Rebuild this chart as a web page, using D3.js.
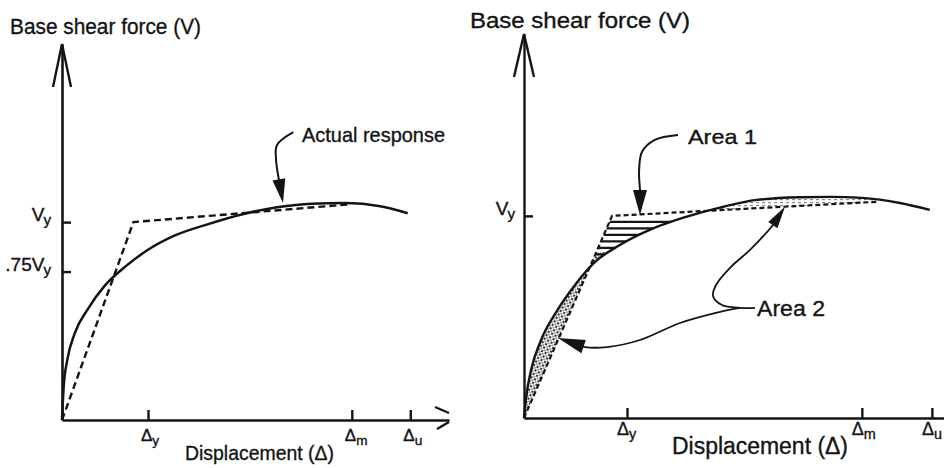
<!DOCTYPE html>
<html>
<head>
<meta charset="utf-8">
<script src="https://cdn.jsdelivr.net/npm/d3@7"></script>
<style>
  html, body { margin: 0; padding: 0; background: #fff; }
  svg { display: block; font-family: "Liberation Sans", Arial, Helvetica, sans-serif; }
  .lbl { fill: #141414; stroke: #141414; stroke-width: 0.35; }
</style>
</head>
<body>
<svg id="chart" width="944" height="468"></svg>
<script>
// Displacement in units of Δy, base shear in units of Vy.

// Left panel: actual response curve and its bilinear idealisation
const leftCurveD = [0, 0.02, 0.06, 0.15, 0.3, 0.5, 0.75, 1.0, 1.3, 1.7, 2.1, 2.5, 2.9, 3.3, 3.7, 4.02];
const leftCurveV = [0, 0.17, 0.3, 0.44, 0.56, 0.68, 0.78, 0.86, 0.93, 0.99, 1.04, 1.075, 1.093, 1.096, 1.08, 1.045];
const leftIdealD = [0, 0.83, 3.35];
const leftIdealV = [0, 1, 1.09];
const leftXTicks = [1, 3.37, 4.05];
const leftYTicks = [0.75, 1];
const leftYTickLabels = [".75V", "V"];

// Right panel: equal-area bilinear fit
const rightCurveD = [0, 0.02, 0.07, 0.165, 0.32, 0.495, 0.69, 0.93, 1.22, 1.54, 1.93, 2.26, 2.68, 2.97, 3.28, 3.65, 3.94];
const rightCurveV = [0, 0.1, 0.24, 0.385, 0.53, 0.658, 0.772, 0.856, 0.931, 0.99, 1.045, 1.079, 1.092, 1.094, 1.089, 1.064, 1.03];
const rightIdealD = [0, 0.855, 3.43];
const rightIdealV = [0, 1, 1.07];
const rightXTicks = [1, 3.28, 3.96];
const rightYTicks = [1];
const rightYTickLabels = ["V"];

const xTickSubs = ["y", "m", "u"];

// Leader lines for the callouts (data units), last point is the arrow tip
const actualResponseLeader = [[2.69, 1.455], [2.5, 1.39], [2.49, 1.31], [2.52, 1.22], [2.57, 1.096]];
const area1Leader = [[1.495, 1.40], [1.27, 1.376], [1.146, 1.317], [1.117, 1.218], [1.126, 1.129], [1.126, 1.005]];
const area2UpperLeader = [[2.243, 0.545], [2.097, 0.545], [1.922, 0.559], [1.835, 0.604], [1.864, 0.658], [2.0, 0.743], [2.194, 0.832], [2.417, 0.955], [2.534, 1.045]];
const area2LowerLeader = [[2.097, 0.545], [1.903, 0.525], [1.515, 0.47], [1.126, 0.386], [0.806, 0.351], [0.592, 0.351], [0.33, 0.396]];

const svg = d3.select("#chart");
const ink = "#141414";

const defs = svg.append("defs");
const stip = defs.append("pattern").attr("id", "stipple")
  .attr("width", 4).attr("height", 4).attr("patternUnits", "userSpaceOnUse")
  .attr("patternTransform", "rotate(30)");
stip.append("circle").attr("cx", 1).attr("cy", 1).attr("r", 1.15).attr("fill", "#222");
stip.append("circle").attr("cx", 3).attr("cy", 3).attr("r", 0.85).attr("fill", "#444");
const light = defs.append("pattern").attr("id", "lightdash")
  .attr("width", 6).attr("height", 3).attr("patternUnits", "userSpaceOnUse");
light.append("rect").attr("x", 0).attr("y", 1).attr("width", 3).attr("height", 1.2).attr("fill", "#8a8a8a");

function arrowHead(g, from, tip, len, half) {
  const dx = tip[0] - from[0], dy = tip[1] - from[1];
  const L = Math.hypot(dx, dy);
  const ux = dx / L, uy = dy / L;
  const bx = tip[0] - ux * len, by = tip[1] - uy * len;
  g.append("path")
    .attr("d", `M${tip[0]},${tip[1]}L${bx - uy * half},${by + ux * half}L${bx + uy * half},${by - ux * half}Z`)
    .attr("fill", ink);
}

function leader(g, x, y, pts, len, half, width) {
  const px = pts.map(p => [x(p[0]), y(p[1])]);
  const tip = px[px.length - 1];
  const prev = px[px.length - 2];
  const line = d3.line().curve(d3.curveCatmullRom.alpha(0.5));
  const dx = tip[0] - prev[0], dy = tip[1] - prev[1];
  const L = Math.hypot(dx, dy);
  const base = [tip[0] - dx / L * (len - 2), tip[1] - dy / L * (len - 2)];
  g.append("path").attr("d", line(px.slice(0, -1).concat([base])))
    .attr("fill", "none").attr("stroke", ink).attr("stroke-width", width);
  arrowHead(g, prev, tip, len, half);
}

function label(g, x, y, size, length, text) {
  return g.append("text").attr("class", "lbl").attr("x", x).attr("y", y)
    .attr("font-size", size)
    .attr("textLength", length).attr("lengthAdjust", "spacingAndGlyphs")
    .text(text);
}

function panel(opt) {
  const g = svg.append("g");
  const x = d3.scaleLinear().domain(opt.xDomain).range(opt.xRange);
  const y = d3.scaleLinear().domain(opt.yDomain).range(opt.yRange);

  // axes
  const xAxis = g.append("g").attr("transform", `translate(0,${y(0)})`)
    .call(d3.axisBottom(x).tickValues(opt.xTicks).tickSize(-10).tickSizeOuter(0).tickFormat(""));
  const yAxis = g.append("g").attr("transform", `translate(${x(0)},0)`)
    .call(d3.axisLeft(y).tickValues(opt.yTicks).tickSize(-9).tickSizeOuter(0).tickFormat(""));
  [xAxis, yAxis].forEach(a => {
    a.select(".domain").attr("stroke", ink).attr("stroke-width", opt.axisW);
    a.selectAll(".tick line").attr("stroke", ink).attr("stroke-width", 2.4);
  });

  // open arrow at the top of the force axis
  const top = [x(0), y(opt.yDomain[1])];
  g.append("path")
    .attr("d", `M${top[0] - opt.arm[0]},${top[1] + opt.arm[1]}L${top[0]},${top[1]}L${top[0] + opt.arm[0]},${top[1] + opt.arm[1]}`)
    .attr("fill", "none").attr("stroke", ink).attr("stroke-width", 2.4);

  // displacement tick labels
  opt.xTicks.forEach((v, i) => {
    const t = g.append("text").attr("class", "lbl").attr("x", x(v) + opt.dLabelDx).attr("y", opt.dLabelY)
      .attr("font-size", opt.dFont);
    t.append("tspan").text("Δ");
    t.append("tspan").attr("font-size", opt.dFont * 0.8).attr("dy", 4).text(xTickSubs[i]);
  });
  // force tick labels
  opt.yTicks.forEach((v, i) => {
    const t = g.append("text").attr("class", "lbl").attr("x", x(0) - opt.vLabelGap).attr("y", y(v) - 1)
      .attr("text-anchor", "end").attr("font-size", opt.vFont);
    t.append("tspan").text(opt.yLabels[i]);
    t.append("tspan").attr("font-size", opt.vFont * 0.8).attr("dy", 4).attr("dx", -1).text("y");
  });

  label(g, opt.title[0], opt.title[1], 22, opt.title[2], "Base shear force (V)");
  label(g, opt.xTitle[0], opt.xTitle[1], opt.xTitle[3], opt.xTitle[2], "Displacement (Δ)");

  const curvePts = d3.zip(opt.curveD, opt.curveV);
  const idealPts = d3.zip(opt.idealD, opt.idealV);
  const smooth = d3.line().x(d => x(d[0])).y(d => y(d[1])).curve(d3.curveMonotoneX);
  const straight = d3.line().x(d => x(d[0])).y(d => y(d[1]));

  return { g, x, y, curvePts, idealPts, smooth, straight };
}

// ---------- left panel ----------
const L = panel({
  xDomain: [0, 4.5], xRange: [62, 449],
  yDomain: [0, 1.9], yRange: [420, 44],
  xTicks: leftXTicks, yTicks: leftYTicks, yLabels: leftYTickLabels,
  axisW: 2.6, arm: [9, 43],
  dLabelDx: -7, dLabelY: 441, dFont: 17,
  vLabelGap: 11, vFont: 19,
  title: [10, 34, 191], xTitle: [185, 460, 149, 21],
  curveD: leftCurveD, curveV: leftCurveV, idealD: leftIdealD, idealV: leftIdealV
});
L.g.append("path").attr("d", L.straight(L.idealPts))
  .attr("fill", "none").attr("stroke", ink).attr("stroke-width", 2.4).attr("stroke-dasharray", "7,4");
L.g.append("path").attr("d", L.smooth(L.curvePts))
  .attr("fill", "none").attr("stroke", ink).attr("stroke-width", 2.5);
// broken arrow at the end of the displacement axis
L.g.append("path")
  .attr("d", `M${L.x(4.5) - 14},${L.y(0) - 13}L${L.x(4.5)},${L.y(0) - 7}M${L.x(4.5) - 12},${L.y(0) + 9}L${L.x(4.5)},${L.y(0) + 2}`)
  .attr("fill", "none").attr("stroke", ink).attr("stroke-width", 2.4);
label(L.g, 302, 142, 21, 143, "Actual response");
leader(L.g, L.x, L.y, actualResponseLeader, 24, 6.5, 2);

// ---------- right panel ----------
const R = panel({
  xDomain: [0, 4.1], xRange: [524, 946.3],
  yDomain: [0, 1.9], yRange: [418, 34],
  xTicks: rightXTicks, yTicks: rightYTicks, yLabels: rightYTickLabels,
  axisW: 2.4, arm: [10, 43],
  dLabelDx: -10, dLabelY: 435, dFont: 18,
  vLabelGap: 9, vFont: 19,
  title: [470, 28, 220], xTitle: [672, 454, 176, 23],
  curveD: rightCurveD, curveV: rightCurveV, idealD: rightIdealD, idealV: rightIdealV
});

const shade = R.g.append("g");
R.g.append("path").attr("d", R.straight(R.idealPts))
  .attr("fill", "none").attr("stroke", ink).attr("stroke-width", 2.2).attr("stroke-dasharray", "5,3");
const rCurve = R.g.append("path").attr("d", R.smooth(R.curvePts))
  .attr("fill", "none").attr("stroke", ink).attr("stroke-width", 2.4);

// region enclosed between the idealised line and the curve
const node = rCurve.node();
const total = node.getTotalLength();
const back = d3.range(0, 301).map(i => {
  const p = node.getPointAtLength(total * (1 - i / 300));
  return [p.x, p.y];
});
const lobe = R.straight(R.idealPts) + "L" + back.map(p => p.join(",")).join("L") + "Z";
defs.append("clipPath").attr("id", "lobes").append("path").attr("d", lobe);
shade.attr("clip-path", "url(#lobes)");

// Area 2 (lower): stippled
shade.append("rect")
  .attr("x", R.x(0)).attr("y", R.y(0.82))
  .attr("width", R.x(0.9) - R.x(0)).attr("height", R.y(0) - R.y(0.82))
  .attr("fill", "url(#stipple)");
// Area 2 (upper): light fill
shade.append("rect")
  .attr("x", R.x(1.74)).attr("y", R.y(1.2))
  .attr("width", R.x(3.42) - R.x(1.74)).attr("height", R.y(0.95) - R.y(1.2))
  .attr("fill", "url(#lightdash)");
// Area 1: horizontal hatching
d3.range(0.81, 1.0, 0.032).forEach(v => {
  shade.append("line")
    .attr("x1", R.x(0.5)).attr("x2", R.x(1.8))
    .attr("y1", R.y(v)).attr("y2", R.y(v))
    .attr("stroke", ink).attr("stroke-width", 2.2);
});

label(R.g, 688, 144, 21, 69, "Area 1");
label(R.g, 757, 316, 22, 68, "Area 2");

leader(R.g, R.x, R.y, area1Leader, 25, 7, 2);
leader(R.g, R.x, R.y, area2UpperLeader, 22, 5.5, 1.8);
leader(R.g, R.x, R.y, area2LowerLeader, 27, 7, 1.8);
</script>
</body>
</html>
